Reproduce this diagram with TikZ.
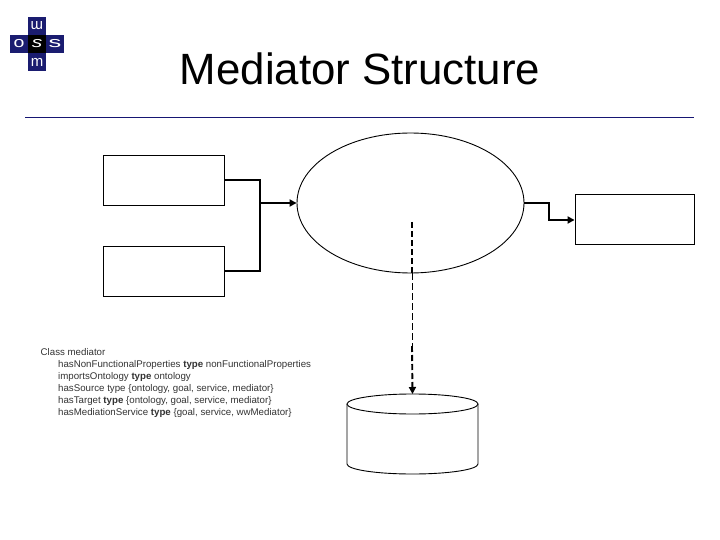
\documentclass[tikz,border=0pt]{standalone}
\usepackage{graphicx}
\usepackage{fontspec}
\setmainfont{Liberation Sans}
\usetikzlibrary{arrows.meta,shapes.geometric}
\definecolor{wsmoblue}{RGB}{26,28,112}
\definecolor{rulecol}{RGB}{22,22,115}
\tikzset{
  x=1pt,y=-1pt,
  shapeline/.style={draw=black,line width=0.9pt,fill=white},
  conn/.style={draw=black,line width=1.9pt},
  tip/.style={-{Triangle[length=7pt,width=7pt]}},
  logotile/.style={fill=wsmoblue,draw=none,minimum width=18pt,minimum height=18pt,inner sep=0pt,text=white,font=\fontsize{15}{15}\selectfont},
  classtext/.style={font=\fontsize{9.7}{12.1}\selectfont,text=black!80,align=left,anchor=north west,inner sep=0pt}
}
\begin{document}
\begin{tikzpicture}
\useasboundingbox (0,0) rectangle (720,540);
% logo
\node[logotile,rotate=180] (lt) at (37,26) {m};
\node[logotile] (ll) at (19,44) {\scalebox{1.3}[1]{o}};
\node[logotile,fill=black,font=\itshape\fontsize{15}{15}\selectfont] (lc) at (37,44) {\scalebox{1.4}[1]{s}};
\node[logotile] (lr) at (55,44) {\scalebox{1.7}[1]{s}};
\node[logotile] (lb) at (37,62) {m};
% title
\node[font=\fontsize{43.8}{50}\selectfont,text=black] (title) at (360,69) {Mediator Structure};
\coordinate (ruleL) at (25,117.5);
\coordinate (ruleR) at (694,117.5);
\draw[rulecol,line width=1.6pt] (ruleL) -- (ruleR);
% shapes
\node[shapeline,minimum width=121pt,minimum height=50pt,inner sep=0pt] (b1) at (163.5,180) {};
\node[shapeline,minimum width=121pt,minimum height=50pt,inner sep=0pt] (b2) at (163.5,271) {};
\node[shapeline,minimum width=119pt,minimum height=50pt,inner sep=0pt] (b3) at (634.5,219.5) {};
\node[shapeline,ellipse,minimum width=227pt,minimum height=140pt,inner sep=0pt] (med) at (410.5,203) {};
% cylinder
\coordinate (dbTop) at (412.5,394);
\draw[shapeline] (347,404) -- (347,464) .. controls (347,469.5) and (376,474) .. (412.5,474) .. controls (449,474) and (478,469.5) .. (478,464) -- (478,404);
\draw[shapeline] (412.5,404) ellipse [x radius=65.5pt,y radius=10pt];
% connectors
\coordinate (jn) at (260,203);
\coordinate (rj1) at (549,203);
\coordinate (rj2) at (549,220);
\coordinate (dA) at (412,222);
\coordinate (dB) at (412,273);
\coordinate (dC) at (412,346);
\draw[conn,line cap=rect] (b1.east) -| (jn) |- (b2.east);
\draw[conn,tip] (jn) -- (med.west);
\draw[conn,tip] (med.east) -- (rj1) -- (rj2) -- (b3.west |- rj2);
\draw[conn,dash pattern=on 6pt off 3pt] (dA) -- (dB);
\draw[black,line width=0.8pt,dash pattern=on 7pt off 3pt] (dB) -- (dC);
\draw[conn,dash pattern=on 6pt off 3pt,tip] (dC) -- (dbTop);
% class text
\node[classtext] (cls) at (40.5,348) {Class mediator\\
\hspace*{17.5pt}hasNonFunctionalProperties \textbf{type} nonFunctionalProperties\\
\hspace*{17.5pt}importsOntology \textbf{type} ontology\\
\hspace*{17.5pt}hasSource type \{ontology, goal, service, mediator\}\\
\hspace*{17.5pt}hasTarget \textbf{type} \{ontology, goal, service, mediator\}\\
\hspace*{17.5pt}hasMediationService \textbf{type} \{goal, service, wwMediator\}};
\end{tikzpicture}
\end{document}
